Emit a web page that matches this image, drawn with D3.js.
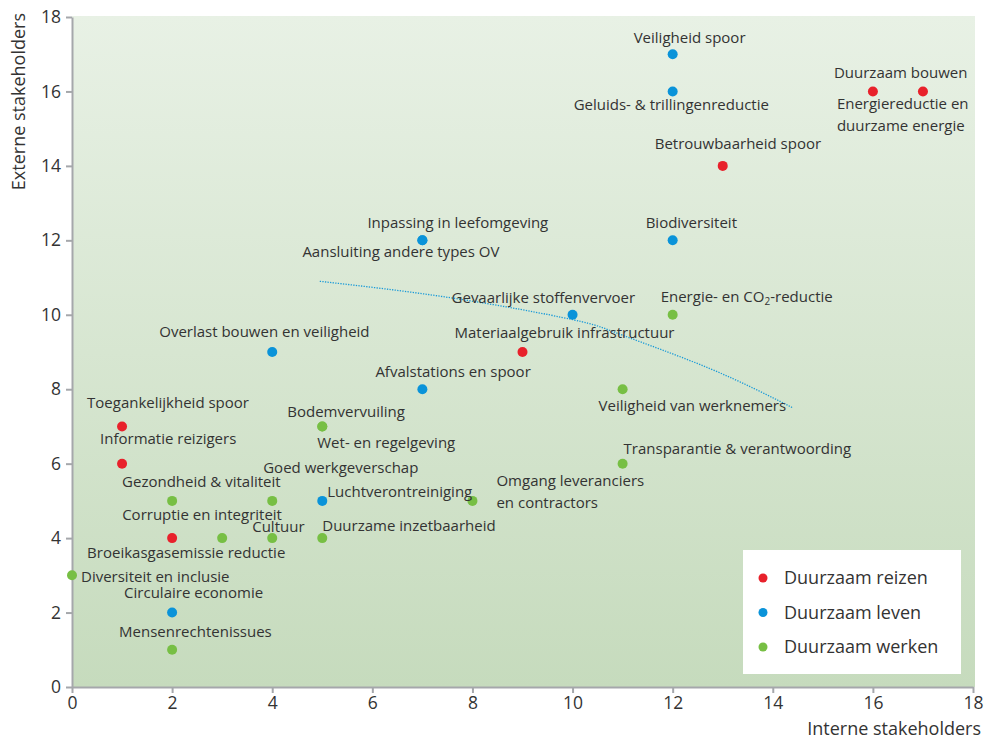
<!DOCTYPE html>
<html>
<head>
<meta charset="utf-8">
<script src="https://cdn.jsdelivr.net/npm/d3@7"></script>
<style>
  html, body { margin: 0; padding: 0; background: #ffffff; }
  svg { display: block; font-family: "Open Sans", "Noto Sans", sans-serif; }
</style>
</head>
<body>
<svg id="chart" width="984" height="740"></svg>
<script>
// ---------- data ----------
const groups = ["Duurzaam reizen", "Duurzaam leven", "Duurzaam werken"];

const names = [
  "Duurzaam bouwen", "Energiereductie en\nduurzame energie", "Betrouwbaarheid spoor",
  "Materiaalgebruik infrastructuur", "Toegankelijkheid spoor", "Informatie reizigers",
  "Broeikasgasemissie reductie",
  "Veiligheid spoor", "Geluids- & trillingenreductie", "Inpassing in leefomgeving",
  "Aansluiting andere types OV", "Biodiversiteit", "Gevaarlijke stoffenvervoer",
  "Overlast bouwen en veiligheid", "Afvalstations en spoor", "Luchtverontreiniging",
  "Circulaire economie",
  "Energie- en CO₂-reductie", "Veiligheid van werknemers", "Bodemvervuiling",
  "Wet- en regelgeving", "Transparantie & verantwoording", "Gezondheid & vitaliteit",
  "Goed werkgeverschap", "Omgang leveranciers\nen contractors", "Corruptie en integriteit",
  "Cultuur", "Duurzame inzetbaarheid", "Diversiteit en inclusie", "Mensenrechtenissues"
];
const interne = [17, 16, 13, 9, 1, 1, 2,  12, 12, 7, 7, 12, 10, 4, 7, 5, 2,  12, 11, 5, 5, 11, 2, 4, 8, 3, 4, 5, 0, 2];
const externe = [16, 16, 14, 9, 7, 6, 4,  17, 16, 12, 12, 12, 10, 9, 8, 5, 2,  10, 8, 7, 7, 6, 5, 5, 5, 4, 4, 4, 3, 1];
const groep   = [0, 0, 0, 0, 0, 0, 0,  1, 1, 1, 1, 1, 1, 1, 1, 1, 1,  2, 2, 2, 2, 2, 2, 2, 2, 2, 2, 2, 2, 2];

const xTicks = [0, 2, 4, 6, 8, 10, 12, 14, 16, 18];
const yTicks = [0, 2, 4, 6, 8, 10, 12, 14, 16, 18];

// dotted trend curve
const curveX = [4.95, 7.6, 10.0, 11.0, 12.75, 14.4];
const curveY = [10.9, 10.45, 9.87, 9.45, 8.55, 7.5];

const xTitle = "Interne stakeholders";
const yTitle = "Externe stakeholders";

// ---------- layout / style ----------
const groupColors = ["#e8212b", "#0a93d9", "#77bf44"];
// label offsets (px) relative to the dot: [dx to left edge, dy to text centre]
const labelOffsets = [
  [-89, -18.5], [-36, 12.5], [-68, -22], [-68, -19], [-35, -23.5], [-22, -25], [-85, 15],
  [-39, -16], [-99, 13.5], [-55, -17.5], [-120, 11.6], [-27, -18], [-121, -17], [-113, -20],
  [-47, -17], [5, -9], [-48, -19.6],
  [-12, -18], [-24, 17], [-35, -14.5], [-5, 16.5], [1, -15], [-50, -19], [-9, -33],
  [24, -20], [-100, -23], [-20, -11], [0, -12], [9, 1.7], [-53, -18]
];

const svg = d3.select("#chart");
const pLeft = 72, pRight = 973, pTop = 17, pBottom = 687;

const x = d3.scaleLinear().domain([0, 18]).range([pLeft, pRight]);
const y = d3.scaleLinear().domain([0, 18]).range([pBottom, pTop]);

// background gradient
const defs = svg.append("defs");
const grad = defs.append("linearGradient").attr("id", "bg").attr("x1", 0).attr("y1", 0).attr("x2", 0).attr("y2", 1);
grad.append("stop").attr("offset", "0%").attr("stop-color", "#e8f1e5");
grad.append("stop").attr("offset", "100%").attr("stop-color", "#c6dbbd");

svg.append("rect")
  .attr("x", pLeft).attr("y", pTop - 1)
  .attr("width", pRight + 2 - pLeft).attr("height", pBottom - pTop + 1)
  .attr("fill", "url(#bg)");

// axes
const axisColor = "#a5a7ab";
const textColor = "#333333";

const gx = svg.append("g").attr("transform", `translate(0,${pBottom})`)
  .call(d3.axisBottom(x).tickValues(xTicks).tickSize(6).tickSizeOuter(0).tickPadding(4));
const gy = svg.append("g").attr("transform", `translate(${pLeft},0)`)
  .call(d3.axisLeft(y).tickValues(yTicks).tickSize(6).tickSizeOuter(0).tickPadding(5));

[gx, gy].forEach(g => {
  g.select(".domain").attr("stroke", axisColor).attr("stroke-width", 2);
  g.selectAll(".tick line").attr("stroke", axisColor).attr("stroke-width", 2);
  g.selectAll(".tick text").attr("fill", textColor).style("font-size", "17.5px")
    .style("font-family", '"Open Sans", sans-serif');
});

// axis titles
svg.append("text")
  .attr("x", 981).attr("y", 735)
  .attr("text-anchor", "end")
  .attr("fill", textColor).style("font-size", "18px")
  .text(xTitle);

svg.append("text")
  .attr("transform", "translate(25,13) rotate(-90)")
  .attr("text-anchor", "end")
  .attr("fill", textColor).style("font-size", "18px")
  .text(yTitle);

// dotted curve
const line = d3.line().x(d => x(d[0])).y(d => y(d[1])).curve(d3.curveNatural);
svg.append("path")
  .datum(curveX.map((v, i) => [v, curveY[i]]))
  .attr("d", line)
  .attr("fill", "none")
  .attr("stroke", "#1a9ad8")
  .attr("stroke-width", 1.3)
  .attr("stroke-dasharray", "1.3,1.3");

// points
const pts = names.map((n, i) => ({ name: n, xv: interne[i], yv: externe[i], g: groep[i], off: labelOffsets[i] }));

svg.append("g").selectAll("circle")
  .data(pts).join("circle")
  .attr("cx", d => x(d.xv)).attr("cy", d => y(d.yv))
  .attr("r", 5)
  .attr("fill", d => groupColors[d.g]);

// labels
const lg = svg.append("g").style("font-size", "15px").attr("fill", textColor);
pts.forEach(d => {
  const lines = d.name.split("\n");
  lines.forEach((ln, k) => {
    const t = lg.append("text")
      .attr("x", x(d.xv) + d.off[0])
      .attr("y", y(d.yv) + d.off[1] + k * 21.5)
      .attr("dy", "0.35em");
    if (ln.includes("₂")) {
      const parts = ln.split("₂");
      t.append("tspan").text(parts[0]);
      t.append("tspan").attr("dy", 3).style("font-size", "10px").text("2");
      t.append("tspan").attr("dy", -3).text(parts[1]);
    } else {
      t.text(ln);
    }
  });
});

// legend
const leg = svg.append("g");
leg.append("rect").attr("x", 743).attr("y", 550).attr("width", 218).attr("height", 124).attr("fill", "#ffffff");
groups.forEach((gname, i) => {
  const cy = 578 + i * 34.5;
  leg.append("circle").attr("cx", 763).attr("cy", cy).attr("r", 4.5).attr("fill", groupColors[i]);
  leg.append("text").attr("x", 784).attr("y", cy).attr("dy", "0.35em")
    .attr("fill", textColor).style("font-size", "18px").text(gname);
});
</script>
</body>
</html>
